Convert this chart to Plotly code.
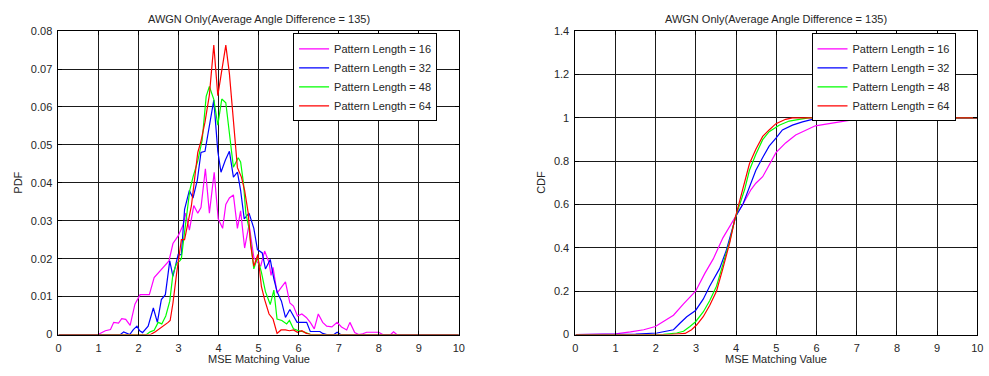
import plotly.graph_objects as go

TITLE = "AWGN Only(Average Angle Difference = 135)"
X_LABEL = "MSE Matching Value"
NAMES = ["Pattern Length = 16", "Pattern Length = 32", "Pattern Length = 48", "Pattern Length = 64"]
COLORS = ["#ff00ff", "#0000ff", "#00ff00", "#ff0000"]

# ---------------- PDF data ----------------
pdf16_x = [0, 0.99, 1.17, 1.3, 1.38, 1.5, 1.58, 1.68, 1.79, 1.91, 2.04, 2.15, 2.27, 2.39, 2.53, 2.66,
           2.76, 2.86, 2.99, 3.11, 3.18, 3.27, 3.38, 3.48, 3.56, 3.67, 3.77, 3.89, 3.99, 4.10, 4.18,
           4.27, 4.37, 4.47, 4.55, 4.65, 4.76, 4.88, 5.05, 5.15, 5.26, 5.31, 5.36, 5.46, 5.56, 5.67,
           5.78, 5.87, 5.97, 6.08, 6.19, 6.29, 6.39, 6.49, 6.6, 6.7, 6.83, 6.96, 7.07, 7.2, 7.28,
           7.4, 7.5, 7.6, 7.7, 7.9, 8.0, 8.1, 8.3, 8.37, 8.45, 10]
pdf16_y = [0, 0, 0.001, 0.0013, 0.0032, 0.003, 0.0042, 0.004, 0.0024, 0.008, 0.0105, 0.0105, 0.0105,
           0.015, 0.0166, 0.018, 0.0194, 0.024, 0.026, 0.0288, 0.032, 0.0275, 0.034, 0.032, 0.0335,
           0.0437, 0.032, 0.0428, 0.0305, 0.028, 0.0343, 0.036, 0.0368, 0.028, 0.0326, 0.0228, 0.029,
           0.0203, 0.018, 0.022, 0.019, 0.0156, 0.0177, 0.0109, 0.0122, 0.0139, 0.0083, 0.0075,
           0.0049, 0.0054, 0.0045, 0.0032, 0.0015, 0.0054, 0.0032, 0.0022, 0.002, 0.0032, 0.002,
           0.0012, 0.0032, 0.0005, 0, 0.0002, 0.0006, 0.0006, 0.0006, 0, 0, 0.0007, 0, 0]

pdf32_x = [0, 1.55, 1.63, 1.72, 1.78, 1.87, 1.96, 2.03, 2.1, 2.24, 2.37, 2.47, 2.57, 2.67, 2.78, 2.86,
           2.9, 2.99, 3.07, 3.15, 3.27, 3.36, 3.47, 3.56, 3.66, 3.77, 3.88, 3.98, 4.06, 4.17, 4.27,
           4.37, 4.47, 4.55, 4.64, 4.76, 4.88, 4.97, 5.09, 5.17, 5.29, 5.38, 5.46, 5.57, 5.67, 5.78,
           5.87, 5.96, 6.08, 6.2, 6.29, 6.53, 6.6, 6.7, 6.88, 6.96, 7.05, 10]
pdf32_y = [0, 0, 0.0007, 0.0002, 0, 0.0013, 0.0022, 0.001, 0.0005, 0.0022, 0.007, 0.0032, 0.0092,
           0.0105, 0.0194, 0.0153, 0.0173, 0.0211, 0.021, 0.033, 0.038, 0.036, 0.0408, 0.048, 0.0483,
           0.0556, 0.0618, 0.0483, 0.0428, 0.046, 0.0483, 0.0415, 0.0428, 0.038, 0.0305, 0.032, 0.028,
           0.0224, 0.0215, 0.0173, 0.0198, 0.0147, 0.0113, 0.0088, 0.0045, 0.0066, 0.0049, 0.0032,
           0.0032, 0.0032, 0.0008, 0.0008, 0.0003, 0, 0, 0.0006, 0, 0]

pdf48_x = [0, 2.2, 2.29, 2.39, 2.49, 2.58, 2.68, 2.78, 2.86, 2.95, 3.03, 3.07, 3.15, 3.22, 3.28, 3.36,
           3.48, 3.59, 3.69, 3.77, 3.88, 3.98, 4.08, 4.18, 4.27, 4.37, 4.49, 4.55, 4.62, 4.68, 4.76,
           4.88, 4.97, 5.07, 5.17, 5.29, 5.38, 5.46, 5.58, 5.7, 5.77, 5.87, 5.97, 6.08, 6.16, 6.3, 10]
pdf48_y = [0, 0, 0.0007, 0.0011, 0.0032, 0.0028, 0.0049, 0.0088, 0.016, 0.0187, 0.0194, 0.02, 0.027,
           0.0326, 0.038, 0.0415, 0.0458, 0.0513, 0.0628, 0.0654, 0.062, 0.0552, 0.0621, 0.0611,
           0.0535, 0.0441, 0.0466, 0.0455, 0.040, 0.032, 0.028, 0.0173, 0.0203, 0.0164, 0.0113,
           0.0079, 0.0117, 0.0041, 0.0037, 0.0028, 0.0037, 0.0015, 0.0011, 0.0008, 0.0006, 0, 0]

pdf64_x = [0, 2.3, 2.42, 2.53, 2.64, 2.74, 2.79, 2.86, 2.95, 3.07, 3.15, 3.23, 3.32, 3.4, 3.48, 3.56,
           3.66, 3.77, 3.88, 3.98, 4.08, 4.18, 4.27, 4.37, 4.47, 4.57, 4.65, 4.74, 4.8, 4.88, 4.98,
           5.07, 5.15, 5.26, 5.36, 5.46, 5.56, 5.67, 5.77, 5.87, 5.97, 6.08, 6.19, 6.3, 10]
pdf64_y = [0, 0, 0.0007, 0.0015, 0.0024, 0.0032, 0.0037, 0.0083, 0.016, 0.025, 0.025, 0.0296, 0.0339,
           0.041, 0.048, 0.051, 0.056, 0.0632, 0.0763, 0.063, 0.07, 0.0763, 0.0688, 0.056, 0.044,
           0.0415, 0.038, 0.032, 0.0237, 0.018, 0.0211, 0.0126, 0.0092, 0.0054, 0.0041, 0.0003,
           0.0012, 0.0012, 0.001, 0.0012, 0.0006, 0.001, 0.0003, 0, 0]

# ---------------- CDF data ----------------
cdf16_x = [0, 0.8, 1.0, 1.37, 1.7, 1.99, 2.19, 2.44, 2.69, 2.99, 3.22, 3.43, 3.67, 3.84, 3.96, 4.17,
           4.37, 4.49, 4.66, 4.99, 5.23, 5.48, 5.97, 6.3, 6.71, 6.96, 7.5, 10]
cdf16_y = [0, 0, 0.003, 0.012, 0.022, 0.037, 0.059, 0.089, 0.141, 0.2, 0.282, 0.349, 0.446, 0.498,
           0.535, 0.602, 0.669, 0.698, 0.728, 0.839, 0.884, 0.921, 0.963, 0.973, 0.988, 0.993, 1.0, 1.0]

cdf32_x = [0, 1.5, 2.03, 2.28, 2.44, 2.6, 2.77, 2.99, 3.18, 3.34, 3.59, 3.75, 3.92, 4.0, 4.17, 4.33,
           4.49, 4.66, 4.82, 4.99, 5.15, 5.4, 5.65, 5.97, 6.14, 10]
cdf32_y = [0, 0.002, 0.007, 0.015, 0.022, 0.052, 0.082, 0.111, 0.163, 0.223, 0.305, 0.386, 0.49,
           0.55, 0.602, 0.68, 0.758, 0.817, 0.869, 0.906, 0.944, 0.966, 0.981, 0.996, 1.0, 1.0]

cdf48_x = [0, 2.19, 2.52, 2.69, 2.85, 2.99, 3.18, 3.34, 3.51, 3.67, 3.84, 3.96, 4.21, 4.33, 4.49,
           4.66, 4.82, 5.07, 5.32, 5.57, 5.8, 10]
cdf48_y = [0, 0.001, 0.007, 0.015, 0.037, 0.059, 0.104, 0.156, 0.223, 0.32, 0.431, 0.527, 0.669,
           0.758, 0.832, 0.899, 0.936, 0.966, 0.985, 0.993, 1.0, 1.0]

cdf64_x = [0, 2.36, 2.73, 2.89, 3.02, 3.18, 3.34, 3.51, 3.67, 3.84, 3.96, 4.17, 4.33, 4.49, 4.66,
           4.82, 4.99, 5.23, 5.4, 10]
cdf64_y = [0, 0, 0.005, 0.022, 0.045, 0.082, 0.134, 0.2, 0.305, 0.424, 0.527, 0.669, 0.788, 0.855,
           0.914, 0.944, 0.973, 0.993, 1.0, 1.0]

pdf_series = [(pdf16_x, pdf16_y), (pdf32_x, pdf32_y), (pdf48_x, pdf48_y), (pdf64_x, pdf64_y)]
cdf_series = [(cdf16_x, cdf16_y), (cdf32_x, cdf32_y), (cdf48_x, cdf48_y), (cdf64_x, cdf64_y)]

x_ticks = list(range(0, 11))
pdf_ticks = [0, 0.01, 0.02, 0.03, 0.04, 0.05, 0.06, 0.07, 0.08]
pdf_ticklabels = ["0", "0.01", "0.02", "0.03", "0.04", "0.05", "0.06", "0.07", "0.08"]
cdf_ticks = [0, 0.2, 0.4, 0.6, 0.8, 1.0, 1.2, 1.4]
cdf_ticklabels = ["0", "0.2", "0.4", "0.6", "0.8", "1", "1.2", "1.4"]

FONT = "Liberation Sans, Arial, sans-serif"
TXT = "#262626"

fig = go.Figure()
for (xs, ys), name, col in zip(pdf_series, NAMES, COLORS):
    fig.add_trace(go.Scatter(x=xs, y=ys, mode="lines", name=name,
                             line=dict(color=col, width=1.2), xaxis="x", yaxis="y", legend="legend"))
for (xs, ys), name, col in zip(cdf_series, NAMES, COLORS):
    fig.add_trace(go.Scatter(x=xs, y=ys, mode="lines", name=name,
                             line=dict(color=col, width=1.2), xaxis="x2", yaxis="y2", legend="legend2"))

axis_common = dict(showgrid=True, gridcolor="#1a1a1a", gridwidth=1, zeroline=False,
                   showline=True, linecolor="#000000", linewidth=1, mirror="ticks",
                   ticks="inside", ticklen=4, tickcolor="#000000", ticklabelstandoff=3,
                   tickfont=dict(family=FONT, size=11, color=TXT))

XD1 = [0.0566, 0.4651]
XD2 = [0.5841, 0.9942]
y_dom = [0.0975, 0.931]
title_font = dict(family=FONT, size=11, color=TXT)

fig.update_layout(
    width=989, height=376,
    margin=dict(l=0, r=0, t=0, b=0),
    paper_bgcolor="white", plot_bgcolor="white",
    font=dict(family=FONT, size=11, color=TXT),
    xaxis=dict(domain=XD1, range=[0, 10], tickvals=x_ticks, anchor="y", **axis_common),
    yaxis=dict(domain=y_dom, range=[0, 0.08], tickvals=pdf_ticks, ticktext=pdf_ticklabels,
               anchor="x", **axis_common),
    xaxis2=dict(domain=XD2, range=[0, 10], tickvals=x_ticks, anchor="y2", **axis_common),
    yaxis2=dict(domain=y_dom, range=[0, 1.4], tickvals=cdf_ticks, ticktext=cdf_ticklabels,
                anchor="x2", **axis_common),
    legend=dict(x=0.296, y=0.925, xanchor="left", yanchor="top", bgcolor="white",
                bordercolor="#000000", borderwidth=1, font=dict(family=FONT, size=11, color=TXT),
                tracegroupgap=0, itemwidth=30),
    legend2=dict(x=0.825, y=0.925, xanchor="left", yanchor="top", bgcolor="white",
                 bordercolor="#000000", borderwidth=1, font=dict(family=FONT, size=11, color=TXT),
                 tracegroupgap=0, itemwidth=30),
    showlegend=True,
    annotations=[
        dict(text=TITLE, x=sum(XD1) / 2, y=1 - 13 / 376, xref="paper", yref="paper",
             showarrow=False, xanchor="center", yanchor="middle", font=title_font),
        dict(text=TITLE, x=sum(XD2) / 2, y=1 - 13 / 376, xref="paper", yref="paper",
             showarrow=False, xanchor="center", yanchor="middle", font=title_font),
        dict(text=X_LABEL, x=sum(XD1) / 2, y=0, xref="paper", yref="paper",
             showarrow=False, xanchor="center", yanchor="bottom", yshift=3, font=title_font),
        dict(text=X_LABEL, x=sum(XD2) / 2, y=0, xref="paper", yref="paper",
             showarrow=False, xanchor="center", yanchor="bottom", yshift=3, font=title_font),
        dict(text="PDF", x=15 / 989, y=sum(y_dom) / 2, xref="paper", yref="paper", textangle=-90,
             showarrow=False, xanchor="center", yanchor="middle", font=title_font),
        dict(text="CDF", x=543 / 989, y=sum(y_dom) / 2, xref="paper", yref="paper", textangle=-90,
             showarrow=False, xanchor="center", yanchor="middle", font=title_font),
    ],
)

fig.write_html("out.html")
